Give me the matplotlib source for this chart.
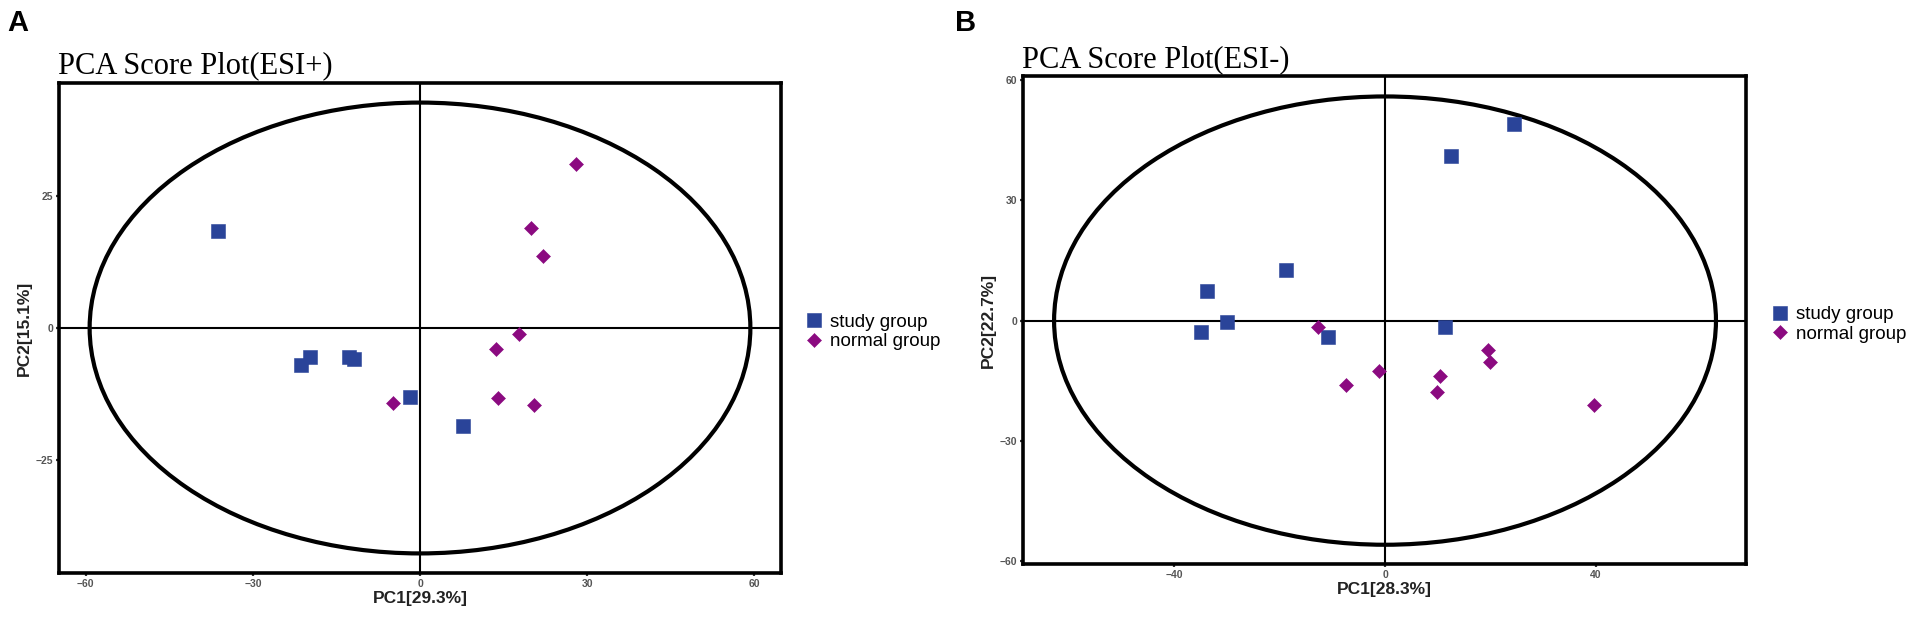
import matplotlib
matplotlib.use("Agg")
import matplotlib.pyplot as plt
from matplotlib.patches import Ellipse
from matplotlib.lines import Line2D

# ---------------- data ----------------
# Panel A (ESI+)
a_study_x = [-36.3, -21.4, -19.8, -12.7, -11.8, -1.8, 7.8]
a_study_y = [18.3, -6.9, -5.5, -5.4, -5.8, -13.0, -18.5]
a_normal_x = [28.0, 20.0, 22.1, 17.8, 13.7, 14.0, 20.4, -4.9]
a_normal_y = [31.0, 18.9, 13.6, -1.2, -3.9, -13.2, -14.5, -14.1]
a_xticks = [-60, -30, 0, 30, 60]
a_yticks = [-25, 0, 25]
a_ellipse = (59.3, 42.6)  # semi-axes
a_xlim = (-64.8, 64.8)
a_ylim = (-46.3, 46.3)
a_title = "PCA Score Plot(ESI+)"
a_xlabel = "PC1[29.3%]"
a_ylabel = "PC2[15.1%]"

# Panel B (ESI-)
b_study_x = [24.5, 12.5, -18.8, -33.7, -30.0, -34.9, -10.8, 11.4]
b_study_y = [49.0, 41.1, 12.7, 7.5, -0.3, -2.9, -4.2, -1.7]
b_normal_x = [-12.8, -1.1, -7.4, 10.4, 9.8, 19.5, 19.9, 39.7]
b_normal_y = [-1.5, -12.5, -16.0, -13.8, -17.7, -7.4, -10.3, -21.1]
b_xticks = [-40, 0, 40]
b_yticks = [-60, -30, 0, 30, 60]
b_ellipse = (62.8, 55.9)
b_xlim = (-68.7, 68.5)
b_ylim = (-60.7, 61.0)
b_title = "PCA Score Plot(ESI-)"
b_xlabel = "PC1[28.3%]"
b_ylabel = "PC2[22.7%]"

legend_labels = ["study group", "normal group"]

BLUE = "#2a4499"
PURPLE = "#8b0a80"

W, H = 1914, 617
fig = plt.figure(figsize=(W / 100, H / 100), dpi=100)

def px_rect(l, t, r, b):
    return [l / W, 1 - b / H, (r - l) / W, (b - t) / H]

def panel(rect, sx, sy, nx, ny, xt, yt, ell, xlim, ylim, xlabel, ylabel, leg_anchor):
    ax = fig.add_axes(rect)
    ax.add_patch(Ellipse((0, 0), 2 * ell[0], 2 * ell[1], fill=False,
                         edgecolor="black", linewidth=3.0, zorder=2))
    ax.axhline(0, color="black", linewidth=1.5, zorder=1)
    ax.axvline(0, color="black", linewidth=1.5, zorder=1)
    ax.plot(sx, sy, linestyle="none", marker="s", markersize=10.0,
            color=BLUE, markeredgecolor=BLUE, markeredgewidth=0.4, zorder=3)
    ax.plot(nx, ny, linestyle="none", marker="D", markersize=7.0,
            color=PURPLE, markeredgecolor=PURPLE, markeredgewidth=0.4, zorder=3)
    ax.set_xlim(*xlim)
    ax.set_ylim(*ylim)
    ax.set_xticks(xt)
    ax.set_yticks(yt)
    for s in ax.spines.values():
        s.set_linewidth(2.6)
        s.set_color("black")
    ax.tick_params(direction="out", length=2.5, width=1.6, color="#333333",
                   labelcolor="#555555", labelsize=7.5, pad=1.5)
    for lab in ax.get_xticklabels() + ax.get_yticklabels():
        lab.set_family("Liberation Sans")
        lab.set_fontweight("bold")
    ax.set_xlabel(xlabel, fontsize=12.5, fontweight="bold",
                  family="Liberation Sans", color="#222222", labelpad=2)
    ax.set_ylabel(ylabel, fontsize=12.5, fontweight="bold",
                  family="Liberation Sans", color="#222222", labelpad=3)
    handles = [
        Line2D([], [], linestyle="none", marker="s", markersize=10.0,
               color=BLUE, markeredgewidth=0.4),
        Line2D([], [], linestyle="none", marker="D", markersize=7.0,
               color=PURPLE, markeredgewidth=0.4),
    ]
    ax.legend(handles, legend_labels, loc="center left",
              bbox_to_anchor=leg_anchor, frameon=False,
              prop={"family": "Liberation Sans", "size": 13.5},
              handlelength=1.0, handletextpad=0.35, labelspacing=0.12,
              borderpad=0, borderaxespad=0)
    return ax

axA = panel(px_rect(59, 83, 781, 573), a_study_x, a_study_y, a_normal_x, a_normal_y,
            a_xticks, a_yticks, a_ellipse, a_xlim, a_ylim, a_xlabel, a_ylabel,
            (1.033, 0.492))
axB = panel(px_rect(1023, 76, 1746, 564), b_study_x, b_study_y, b_normal_x, b_normal_y,
            b_xticks, b_yticks, b_ellipse, b_xlim, b_ylim, b_xlabel, b_ylabel,
            (1.034, 0.491))

fig.text(58 / W, 1 - 73 / H, a_title, family="Liberation Serif", fontsize=22,
         va="baseline", ha="left")
fig.text(1022 / W, 1 - 67 / H, b_title, family="Liberation Serif", fontsize=22,
         va="baseline", ha="left")
fig.text(7 / W, 1 - 31 / H, "A", family="Liberation Sans", fontweight="bold",
         fontsize=21, va="baseline", ha="left")
fig.text(955 / W, 1 - 31 / H, "B", family="Liberation Sans", fontweight="bold",
         fontsize=21, va="baseline", ha="left")

fig.savefig("out.png", dpi=100, facecolor="white")
